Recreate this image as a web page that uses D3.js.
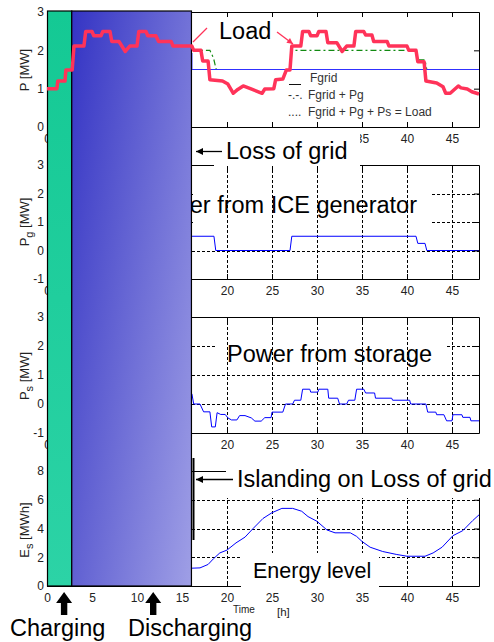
<!DOCTYPE html>
<html>
<head>
<meta charset="utf-8">
<script src="https://cdn.jsdelivr.net/npm/d3@7"></script>
<style>
  html, body { margin: 0; padding: 0; background: #fff; }
  svg { display: block; font-family: "Liberation Sans", Arial, sans-serif; }
</style>
</head>
<body>
<div id="chart"></div>
<script>
  "use strict"

  // time axis [h]
  var timeTicks = [0, 5, 10, 15, 20, 25, 30, 35, 40, 45]

  // y ticks of the four panels
  var pTicks = [0, 1, 2, 3]
  var pgTicks = [-1, 0, 1, 2, 3]
  var psTicks = [-1, 0, 1, 2, 3]
  var esTicks = [0, 2, 4, 6, 8]

  // load [MW], [t, value]
  var loadPts = [
    [0, 1.0], [1.1, 1.0], [1.2, 1.2], [2.0, 1.2], [2.1, 1.49], [2.8, 1.49], [3.0, 2.11], [4.1, 2.11]
  , [4.3, 2.49], [5.0, 2.49], [5.2, 2.38], [6.0, 2.38], [6.2, 2.49], [7.0, 2.49], [7.2, 2.23], [8.0, 2.23]
  , [8.7, 1.97], [9.2, 2.11], [10.0, 2.11], [10.2, 2.49], [11.0, 2.49], [11.2, 2.38], [12.1, 2.38]
  , [12.4, 2.23], [13.8, 2.23], [14.0, 2.11], [16.1, 2.11], [16.3, 2.0], [17.1, 2.0], [17.3, 1.72]
  , [17.9, 1.72], [18.1, 1.23], [19.5, 1.2], [20.1, 1.12], [20.7, 0.88], [21.2, 0.98], [21.8, 1.07]
  , [22.6, 1.0], [23.9, 0.88], [24.2, 0.99], [25.2, 1.0], [25.4, 1.23], [26.2, 1.25], [26.6, 1.49]
  , [27.0, 1.49], [27.2, 2.11], [28.2, 2.11], [28.4, 2.49], [29.1, 2.49], [29.3, 2.38], [30.0, 2.38]
  , [30.2, 2.49], [31.0, 2.49], [31.2, 2.2], [32.2, 2.2], [32.8, 1.97], [33.3, 2.11], [34.1, 2.11]
  , [34.3, 2.49], [35.2, 2.49], [35.4, 2.4], [36.1, 2.4], [36.3, 2.23], [37.8, 2.23], [38.0, 2.11]
  , [40.0, 2.11], [40.2, 2.0], [41.0, 2.0], [41.2, 1.7], [41.9, 1.7], [42.1, 1.2], [43.3, 1.15]
  , [44.0, 1.05], [44.3, 0.88], [44.8, 0.88], [45.7, 1.07], [46.0, 1.02], [46.7, 0.99], [47.2, 0.92]
  , [48, 0.86]
  ]

  // grid supply and grid + generator [MW]
  var fgridPts = [[16.1, 1.93], [16.1, 1.5], [48, 1.5]]
  var fgridPgPts = [
    [16.1, 2.0], [18.1, 2.0], [18.5, 1.8], [18.8, 1.5], [27.0, 1.5], [27.2, 2.0], [41.0, 2.0]
  , [41.2, 1.75], [42.0, 1.75], [42.2, 1.5], [48, 1.5]
  ]

  // ICE generator power [MW]
  var pgPts = [
    [16.1, 0.5], [18.55, 0.5], [18.75, 0], [27.0, 0], [27.2, 0.5], [41.0, 0.5], [41.2, 0.25]
  , [42.0, 0.25], [42.2, 0], [48, 0]
  ]

  // storage power [MW]
  var psPts = [
    [16.1, 0.35], [16.3, 0], [17.0, 0], [17.4, -0.27], [18.1, -0.27], [18.3, -0.79], [18.7, -0.79]
  , [18.9, -0.3], [19.3, -0.36], [19.8, -0.36], [20.1, -0.48], [20.5, -0.55], [21.1, -0.55]
  , [21.4, -0.4], [22.0, -0.4], [22.7, -0.48], [23.1, -0.59], [23.8, -0.59], [24.2, -0.47]
  , [24.9, -0.47], [25.0, -0.28], [26.2, -0.28], [26.5, 0], [27.3, 0], [27.5, 0.13], [28.2, 0.13]
  , [28.4, 0.51], [29.2, 0.51], [29.3, 0.41], [30.1, 0.41], [30.2, 0.51], [31.2, 0.51], [31.3, 0.2]
  , [32.3, 0.2], [32.5, 0], [33.3, 0], [33.5, 0.13], [34.2, 0.13], [34.4, 0.51], [35.2, 0.51]
  , [35.4, 0.38], [36.4, 0.38], [36.5, 0.2], [38.3, 0.2], [38.4, 0.13], [40.3, 0.13], [40.4, 0]
  , [42.1, 0], [42.3, -0.28], [43.2, -0.28], [43.3, -0.37], [44.1, -0.37], [44.4, -0.58]
  , [45.0, -0.58], [45.1, -0.37], [46.1, -0.37], [46.2, -0.46], [47.0, -0.46], [47.1, -0.58]
  , [48, -0.58]
  ]

  // storage energy [MWh]
  var esPts = [
    [16.1, 1.24], [17.0, 1.26], [17.9, 1.5], [18.5, 1.9], [19.2, 2.3], [20, 2.5], [21, 3.0]
  , [22.0, 3.4], [22.9, 4.0], [24, 4.7], [25, 5.1], [26.1, 5.4], [27.3, 5.4], [28.3, 5.2]
  , [29, 4.83], [30, 4.5], [31.1, 3.9], [32, 3.7], [33.7, 3.7], [34.4, 3.45], [35, 3.1]
  , [35.9, 2.7], [37.3, 2.4], [38.8, 2.2], [40, 2.07], [42, 2.07], [42.9, 2.3], [43.9, 2.7]
  , [45.1, 3.5], [46.2, 3.85], [47.3, 4.55], [48, 4.95]
  ]

  var legendMarks = ["", "-.-.", "...."]
  var legendLabels = ["Fgrid", "Fgrid + Pg", "Fgrid + Pg + Ps = Load"]

  // time [h] of the charge / discharge pointers and of the box edges
  var chargeEnd = 2.75
  var dischargeEnd = 16.05
  var chargeArrowT = 1.9
  var dischargeArrowT = 11.8


  var W = 494
    , H = 642
    , FONT = '"Liberation Sans", Arial, sans-serif'

  var svg = d3.select("#chart")
    .append("svg")
    .attr("width", W)
    .attr("height", H)

  var x = d3.scaleLinear().domain([0, 48]).range([47, 479])

  var defs = svg.append("defs")

  var grad = defs.append("linearGradient")
    .attr("id", "grad-discharge")
    .attr("gradientUnits", "userSpaceOnUse")
    .attr("x1", 72).attr("y1", 11)
    .attr("x2", 274).attr("y2", 41)
  grad.append("stop").attr("offset", 0).attr("stop-color", "#3434c4")
  grad.append("stop").attr("offset", 1).attr("stop-color", "#a0a0e6")

  var gradG = defs.append("linearGradient")
    .attr("id", "grad-charge")
    .attr("x1", 0).attr("y1", 0).attr("x2", 0).attr("y2", 1)
  gradG.append("stop").attr("offset", 0).attr("stop-color", "#14c994")
  gradG.append("stop").attr("offset", 1).attr("stop-color", "#2cd3a6")

  function marker (id, color, w, h) {
    defs.append("marker")
      .attr("id", id)
      .attr("markerUnits", "userSpaceOnUse")
      .attr("markerWidth", w)
      .attr("markerHeight", h)
      .attr("refX", 10)
      .attr("refY", 5)
      .attr("viewBox", "0 0 10 10")
      .attr("orient", "auto")
      .append("path")
        .attr("d", "M0,0L10,5L0,10z")
        .attr("fill", color)
  }
  marker("arrow-black", "#000", 8, 7)
  marker("arrow-red", "#ff3359", 7, 6)

  // hidden: tick labels that sit under the boxes or the "Loss of grid" note
  var panels = [
    { ticks: pTicks, domain: [0, 3], top: 12, bottom: 127, grid: false, labelY: 70, title: ["P", "", "  [MW]"]
    , hidden: [5, 10, 15, 20, 25, 30]
    , series: [
        { pts: fgridPgPts, color: "#118a11", width: 1.2, dash: "6,3,2,3" }
      , { pts: fgridPts, color: "#3030ff", width: 1.1 }
      ] }
  , { ticks: pgTicks, domain: [-1, 3], top: 165, bottom: 279, grid: true, labelY: 222, title: ["P", "g", "  [MW]"]
    , hidden: [5, 10, 15]
    , patch: [193, 430, 185, 230]
    , series: [ { pts: pgPts, color: "#0000ff", width: 1 } ] }
  , { ticks: psTicks, domain: [-1, 3], top: 317, bottom: 433, grid: true, labelY: 376, title: ["P", "s", "  [MW]"]
    , hidden: [5, 10, 15]
    , patch: [215, 445, 335, 365]
    , series: [ { pts: psPts, color: "#0000ff", width: 1 } ] }
  , { ticks: esTicks, domain: [0, 8], top: 471, bottom: 586, grid: true, labelY: 530, title: ["E", "s", "  [MWh]"]
    , hidden: []
    , series: [ { pts: esPts, color: "#0000ff", width: 1 } ] }
  ]

  function styleAxis (sel) {
    sel.attr("font-family", FONT).attr("font-size", 12)
    sel.selectAll("text").attr("fill", "#222")
    sel.selectAll("line, path").attr("stroke", "#000")
  }

  function drawPanel (p) {
    var y = d3.scaleLinear().domain(p.domain).range([p.bottom, p.top])
      , g = svg.append("g")
      , inner = p.ticks.filter(function (d) { return d > p.domain[0] && d < p.domain[1] })

    if (p.grid) {
      g.selectAll("line.hgrid")
        .data(inner)
        .enter().append("line")
          .attr("class", "hgrid")
          .attr("x1", x.range()[0]).attr("x2", x.range()[1])
          .attr("y1", function (d) { return Math.round(y(d)) + 0.5 })
          .attr("y2", function (d) { return Math.round(y(d)) + 0.5 })
          .attr("stroke", "#000")
          .attr("stroke-dasharray", "3,2")

      // white label backgrounds hide part of the horizontal grid
      if (p.patch) {
        g.append("rect")
          .attr("x", p.patch[0]).attr("y", p.patch[2])
          .attr("width", p.patch[1] - p.patch[0])
          .attr("height", p.patch[3] - p.patch[2])
          .attr("fill", "#fff")
      }

      g.selectAll("line.vgrid")
        .data(timeTicks.slice(1))
        .enter().append("line")
          .attr("class", "vgrid")
          .attr("y1", p.top).attr("y2", p.bottom)
          .attr("x1", function (d) { return Math.round(x(d)) + 0.5 })
          .attr("x2", function (d) { return Math.round(x(d)) + 0.5 })
          .attr("stroke", "#000")
          .attr("stroke-dasharray", "3,2")
    }

    var line = d3.line()
      .x(function (d) { return x(d[0]) })
      .y(function (d) { return y(d[1]) })

    p.series.forEach(function (s) {
      g.append("path")
        .attr("d", line(s.pts))
        .attr("fill", "none")
        .attr("stroke", s.color)
        .attr("stroke-width", s.width)
        .attr("stroke-dasharray", s.dash || null)
    })

    g.append("g")
      .attr("transform", "translate(0," + p.bottom + ")")
      .call(d3.axisBottom(x).tickValues(timeTicks).tickSizeInner(-5).tickSizeOuter(0).tickPadding(7)
        .tickFormat(function (d) { return p.hidden.indexOf(d) < 0 ? String(d) : "" }))
      .call(styleAxis)

    g.append("g")
      .attr("transform", "translate(0," + p.top + ")")
      .call(d3.axisTop(x).tickValues(timeTicks).tickSizeInner(-5).tickSizeOuter(0).tickFormat(""))
      .call(styleAxis)

    g.append("g")
      .attr("transform", "translate(" + x.range()[1] + ",0)")
      .call(d3.axisRight(y).tickValues(p.ticks).tickSizeInner(-5).tickSizeOuter(0).tickFormat(""))
      .call(styleAxis)

    g.append("g")
      .attr("transform", "translate(" + x.range()[0] + ",0)")
      .call(d3.axisLeft(y).tickValues(p.ticks).tickSizeInner(-5).tickSizeOuter(0).tickPadding(3)
        .tickFormat(function (d) { return String(d) }))
      .call(styleAxis)

    // rotated axis title with subscript
    var t = g.append("text")
      .attr("transform", "translate(29," + p.labelY + ") rotate(-90)")
      .attr("text-anchor", "middle")
      .attr("font-size", 13)
      .attr("fill", "#222")
    t.append("tspan").text(p.title[0])
    if (p.title[1]) {
      t.append("tspan").attr("dy", 4).attr("font-size", 11).text(p.title[1])
      t.append("tspan").attr("dy", -4).text(p.title[2])
    } else {
      t.append("tspan").text(p.title[2])
    }

    p.y = y
  }

  panels.forEach(drawPanel)

  // legend of the top panel
  var legend = svg.append("g")
    .attr("font-size", 12)
    .attr("fill", "#333")
  legend.append("line")
    .attr("x1", 289).attr("x2", 301)
    .attr("y1", 84.5).attr("y2", 84.5)
    .attr("stroke", "#111")
  legend.selectAll("text.mark")
    .data(legendMarks)
    .enter().append("text")
      .attr("class", "mark")
      .attr("x", 288)
      .attr("y", function (d, i) { return 82 + i * 17 })
      .text(function (d) { return d })
  legend.selectAll("text.label")
    .data(legendLabels)
    .enter().append("text")
      .attr("class", "label")
      .attr("x", function (d, i) { return i === 0 ? 310 : 308 })
      .attr("y", function (d, i) { return 82 + i * 17 })
      .text(function (d) { return d })

  // white boxes of the annotation texts
  var boxes = [[214, 129, 146, 37], [226, 461, 270, 37], [241, 553, 138, 38]]
  svg.selectAll("rect.box")
    .data(boxes)
    .enter().append("rect")
      .attr("class", "box")
      .attr("x", function (d) { return d[0] })
      .attr("y", function (d) { return d[1] })
      .attr("width", function (d) { return d[2] })
      .attr("height", function (d) { return d[3] })
      .attr("fill", "#fff")

  function label (txt, xx, yy, size, anchor) {
    return svg.append("text")
      .attr("x", xx).attr("y", yy)
      .attr("font-size", size)
      .attr("text-anchor", anchor || "start")
      .attr("fill", "#000")
      .text(txt)
  }

  // this one sits partly under the discharge box
  label("Power from ICE generator", 417, 213, 23.5, "end")

  // charge / discharge boxes
  var boxTop = 11
    , boxBottom = panels[3].bottom
  svg.append("rect")
    .attr("x", x(0) + 0.5).attr("y", boxTop)
    .attr("width", x(chargeEnd) - x(0) - 0.5).attr("height", boxBottom - boxTop)
    .attr("fill", "url(#grad-charge)")
    .attr("stroke", "#000").attr("stroke-width", 1.2)
  svg.append("rect")
    .attr("x", x(chargeEnd)).attr("y", boxTop)
    .attr("width", x(dischargeEnd) - x(chargeEnd)).attr("height", boxBottom - boxTop)
    .attr("fill", "url(#grad-discharge)")
    .attr("stroke", "#000").attr("stroke-width", 1.2)

  svg.append("line")
    .attr("x1", 193.5).attr("x2", 193.5)
    .attr("y1", 458).attr("y2", 540)
    .attr("stroke", "#000").attr("stroke-width", 2)

  // load on top of everything
  var yP = panels[0].y
  svg.append("path")
    .attr("d", d3.line()
      .x(function (d) { return x(d[0]) })
      .y(function (d) { return yP(d[1]) })(loadPts))
    .attr("fill", "none")
    .attr("stroke", "#ff3359")
    .attr("stroke-width", 3.5)
    .attr("stroke-linejoin", "round")

  // annotations
  label("Load", 219, 39, 23.5)
  svg.append("line")
    .attr("x1", 207).attr("y1", 28).attr("x2", 193).attr("y2", 42)
    .attr("stroke", "#ff3359").attr("stroke-width", 1.3)
  svg.append("line")
    .attr("x1", 277).attr("y1", 32).attr("x2", 293).attr("y2", 44)
    .attr("stroke", "#ff3359").attr("stroke-width", 1.3)
    .attr("marker-end", "url(#arrow-red)")

  label("Loss of grid", 226, 159, 23.5)
  svg.append("line")
    .attr("x1", 222).attr("y1", 151.5).attr("x2", 196).attr("y2", 151.5)
    .attr("stroke", "#000").attr("stroke-width", 1.3)
    .attr("marker-end", "url(#arrow-black)")

  label("Power from storage", 227, 362, 23.5)

  label("Islanding on Loss of grid", 237, 487, 23.5)
  svg.append("line")
    .attr("x1", 233).attr("y1", 479.5).attr("x2", 196).attr("y2", 479.5)
    .attr("stroke", "#000").attr("stroke-width", 1.3)
    .attr("marker-end", "url(#arrow-black)")

  label("Energy level", 253, 578, 21.5)

  label("Time", 233, 612.5, 10).attr("fill", "#222")
  label("[h]", 277, 616, 11.5).attr("fill", "#222")

  label("Charging", 10, 636, 23.5)
  label("Discharging", 128, 636, 23.5)

  // thick up arrows under the boxes
  svg.selectAll("path.up")
    .data([chargeArrowT, dischargeArrowT])
    .enter().append("path")
      .attr("class", "up")
      .attr("d", function (d) {
        var cx = x(d)
        return "M" + cx + ",592"
          + "L" + (cx + 8) + ",603"
          + "L" + (cx + 3.2) + ",603"
          + "L" + (cx + 3.2) + ",615"
          + "L" + (cx - 3.2) + ",615"
          + "L" + (cx - 3.2) + ",603"
          + "L" + (cx - 8) + ",603Z"
      })
      .attr("fill", "#000")
</script>
</body>
</html>
